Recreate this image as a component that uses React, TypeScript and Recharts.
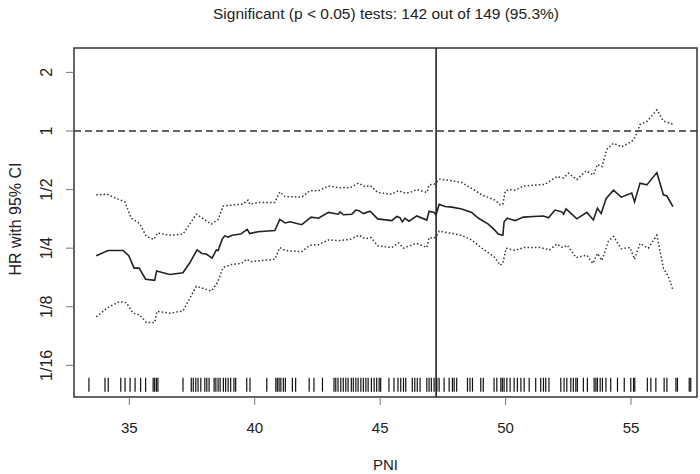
import React from 'react';
import {
  ComposedChart,
  Line,
  Scatter,
  XAxis,
  YAxis,
  ReferenceLine,
  ReferenceArea,
} from 'recharts';

// ---------- data (PNI, log2 HR) ----------
const ESTIMATE: [number, number][] = [
  [33.68, -2.13], [34.15, -2.04], [34.75, -2.04], [34.98, -2.13], [35.19, -2.34],
  [35.39, -2.34], [35.65, -2.53], [36.01, -2.55], [36.09, -2.39], [36.61, -2.45],
  [37.14, -2.42], [37.41, -2.25], [37.7, -2.03], [37.9, -2.09], [38.07, -2.1],
  [38.3, -2.17], [38.47, -2.03], [38.54, -2.04], [38.7, -1.85], [38.8, -1.79],
  [38.94, -1.81], [39.1, -1.78], [39.44, -1.76], [39.7, -1.68], [39.8, -1.75],
  [40.13, -1.72], [40.8, -1.7], [41.0, -1.51], [41.21, -1.57], [41.41, -1.55],
  [41.87, -1.6], [42.25, -1.47], [42.54, -1.49], [42.94, -1.39], [43.33, -1.42],
  [43.4, -1.38], [43.53, -1.43], [43.87, -1.42], [44.03, -1.35], [44.16, -1.36],
  [44.33, -1.41], [44.6, -1.37], [44.9, -1.5], [45.46, -1.53], [45.66, -1.46],
  [45.79, -1.48], [45.88, -1.55], [45.99, -1.49], [46.15, -1.54], [46.46, -1.45],
  [46.86, -1.52], [46.95, -1.37], [47.15, -1.39], [47.23, -1.43], [47.35, -1.25],
  [47.59, -1.29], [47.86, -1.3], [48.25, -1.33], [48.65, -1.39], [48.92, -1.49],
  [49.31, -1.59], [49.54, -1.68], [49.71, -1.76], [49.89, -1.78], [49.94, -1.55],
  [50.07, -1.49], [50.38, -1.53], [50.71, -1.47], [51.11, -1.46], [51.51, -1.45],
  [51.71, -1.48], [51.97, -1.35], [52.24, -1.38], [52.31, -1.42], [52.41, -1.33],
  [52.84, -1.5], [53.24, -1.39], [53.5, -1.52], [53.66, -1.32], [53.81, -1.41],
  [54.01, -1.15], [54.3, -1.01], [54.61, -1.13], [55.03, -1.06], [55.14, -1.21],
  [55.36, -0.89], [55.63, -0.92], [56.03, -0.71], [56.29, -1.09], [56.43, -1.11],
  [56.67, -1.29],
];

const UPPER: [number, number][] = [
  [33.68, -1.09], [34.12, -1.08], [34.42, -1.14], [34.82, -1.21], [35.08, -1.49],
  [35.41, -1.58], [35.68, -1.8], [35.98, -1.85], [36.12, -1.74], [36.61, -1.78],
  [37.14, -1.76], [37.67, -1.42], [38.27, -1.59], [38.54, -1.51], [38.74, -1.28],
  [39.2, -1.26], [39.53, -1.25], [39.73, -1.18], [39.8, -1.25], [40.2, -1.22],
  [40.8, -1.22], [41.0, -1.04], [41.21, -1.12], [41.87, -1.13], [42.2, -1.02],
  [42.54, -1.02], [42.94, -0.94], [43.4, -0.97], [43.8, -0.97], [44.13, -0.89],
  [44.4, -0.95], [44.6, -0.93], [44.9, -1.05], [45.46, -1.08], [45.73, -1.02],
  [45.99, -1.06], [46.19, -1.05], [46.46, -1.0], [46.86, -1.05], [46.95, -0.92],
  [47.15, -0.91], [47.26, -0.87], [47.39, -0.82], [47.86, -0.85], [48.25, -0.88],
  [48.65, -0.98], [49.05, -1.09], [49.58, -1.18], [49.78, -1.26], [49.89, -1.25],
  [49.98, -1.04], [50.11, -1.0], [50.38, -1.01], [50.71, -0.94], [51.24, -0.92],
  [51.58, -0.91], [51.78, -0.85], [52.04, -0.78], [52.31, -0.8], [52.51, -0.72],
  [52.84, -0.83], [53.21, -0.68], [53.5, -0.75], [53.66, -0.57], [53.84, -0.61],
  [54.04, -0.31], [54.3, -0.21], [54.63, -0.27], [55.03, -0.18], [55.16, -0.11],
  [55.36, 0.11], [55.63, 0.16], [56.03, 0.36], [56.29, 0.17], [56.43, 0.15],
  [56.67, 0.11],
];

const LOWER: [number, number][] = [
  [33.68, -3.17], [34.15, -3.01], [34.62, -2.91], [34.88, -2.93], [35.15, -3.11],
  [35.41, -3.14], [35.68, -3.27], [36.01, -3.27], [36.1, -3.08], [36.61, -3.11],
  [37.14, -3.07], [37.67, -2.65], [38.27, -2.73], [38.51, -2.59], [38.74, -2.33],
  [39.07, -2.28], [39.47, -2.26], [39.67, -2.19], [39.87, -2.23], [40.26, -2.21],
  [40.8, -2.19], [41.0, -1.99], [41.21, -2.04], [41.87, -2.06], [42.2, -1.95],
  [42.54, -1.94], [42.94, -1.86], [43.4, -1.87], [43.8, -1.85], [44.16, -1.78],
  [44.4, -1.84], [44.64, -1.82], [44.9, -1.96], [45.46, -1.99], [45.73, -1.91],
  [45.93, -2.0], [46.1, -1.97], [46.46, -1.92], [46.86, -1.99], [46.95, -1.82],
  [47.15, -1.83], [47.26, -1.78], [47.35, -1.71], [47.86, -1.75], [48.25, -1.78],
  [48.65, -1.86], [49.05, -2.0], [49.55, -2.15], [49.78, -2.29], [49.89, -2.26],
  [50.02, -2.0], [50.38, -2.04], [50.71, -1.99], [51.38, -1.99], [51.75, -2.03],
  [52.04, -1.93], [52.28, -1.99], [52.46, -1.95], [52.81, -2.16], [53.24, -2.12],
  [53.48, -2.26], [53.66, -2.09], [53.84, -2.21], [54.1, -1.88], [54.3, -1.8],
  [54.61, -2.01], [54.96, -1.99], [55.14, -2.19], [55.36, -1.92], [55.69, -2.0],
  [56.03, -1.78], [56.29, -2.34], [56.49, -2.49], [56.67, -2.71],
];

const RUG_PNI: number[] = [
  33.39, 34.03, 34.16, 34.66, 34.83, 35.03, 35.23, 35.45, 35.65, 35.95, 36.01, 36.08, 36.14,
  37.14, 37.47, 37.55, 37.65, 37.74, 37.85, 38.01, 38.09, 38.18, 38.38, 38.45, 38.54, 38.62,
  38.75, 38.84, 38.94, 39.04, 39.17, 39.24, 39.68, 39.81, 40.48, 40.84, 40.9, 40.97, 41.04,
  41.14, 41.22, 41.5, 41.63, 42.17, 42.36, 42.7, 43.16, 43.23, 43.32, 43.43, 43.53, 43.63,
  43.72, 43.85, 43.93, 44.03, 44.12, 44.23, 44.33, 44.43, 44.52, 44.65, 44.76, 44.86, 44.96,
  45.02, 45.35, 45.55, 45.71, 45.82, 45.93, 46.02, 46.28, 46.38, 46.48, 46.59, 46.86, 46.95,
  47.04, 47.15, 47.26, 47.35, 47.55, 47.75, 47.88, 47.95, 48.05, 48.48, 48.58, 48.68, 49.01,
  49.11, 49.54, 49.65, 49.81, 49.87, 49.94, 50.05, 50.18, 50.34, 50.47, 50.61, 50.74, 50.94,
  51.2, 51.4, 51.51, 51.6, 51.73, 52.2, 52.33, 52.44, 52.6, 52.7, 52.8, 52.86, 53.1, 53.26,
  53.53, 53.6, 53.66, 53.77, 53.86, 54.0, 54.19, 54.46, 54.73, 54.99, 55.1, 55.15, 55.65,
  55.79, 55.99, 56.32, 56.43, 56.79, 56.85, 57.32, 57.38,
];

const CUTPOINT_PNI = 47.23;
const REFERENCE_HR_LOG2 = 0;
const PNI_TICKS = [35, 40, 45, 50, 55];
const HR_TICKS = [-4, -3, -2, -1, 0, 1];
const HR_TICK_LABELS = ['1/16', '1/8', '1/4', '1/2', '1', '2'];
const TITLE = 'Significant (p < 0.05) tests: 142 out of 149 (95.3%)';
const X_LABEL = 'PNI';
const Y_LABEL = 'HR with 95% CI';

// ---------- layout / style ----------
const X_DOMAIN: [number, number] = [32.795, 57.63];
const Y_DOMAIN: [number, number] = [-4.54, 1.416];
const RUG_LEVEL = -4.33;
const FONT = '"Liberation Sans", Arial, Helvetica, sans-serif';
const TEXT = '#222';

const toPts = (arr: [number, number][]) => arr.map(([x, y]) => ({ x, y }));

const YTick = (props: any) => {
  const { x, y, payload } = props;
  const i = HR_TICKS.indexOf(payload.value);
  const tx = x - 11.5;
  return (
    <text
      x={tx}
      y={y}
      transform={`rotate(-90, ${tx}, ${y})`}
      textAnchor="middle"
      fontSize={16}
      fontFamily={FONT}
      fill={TEXT}
    >
      {i >= 0 ? HR_TICK_LABELS[i] : payload.value}
    </text>
  );
};

const RugMark = (props: any) => {
  const { cx, cy } = props;
  if (cx == null || cy == null) return null;
  return <line x1={cx} x2={cx} y1={cy - 7} y2={cy + 7} stroke="#111" strokeWidth={1.2} />;
};

export default function App() {
  const rugData = RUG_PNI.map((x) => ({ x, y: RUG_LEVEL }));
  return (
    <div style={{ position: 'absolute', left: 0, top: 0, width: 700, height: 474, background: '#fff' }}>
      <ComposedChart width={700} height={474} margin={{ top: 48, right: 3, bottom: 47, left: 0 }}>
        <XAxis
          type="number"
          dataKey="x"
          domain={X_DOMAIN}
          ticks={PNI_TICKS}
          allowDataOverflow
          height={30}
          tickSize={8}
          tickMargin={17}
          axisLine={false}
          tickLine={{ stroke: '#777' }}
          tick={{ fontSize: 15, fill: TEXT, fontFamily: FONT }}
        />
        <YAxis
          type="number"
          dataKey="y"
          domain={Y_DOMAIN}
          ticks={HR_TICKS}
          allowDataOverflow
          width={74}
          tickSize={8}
          axisLine={false}
          tickLine={{ stroke: '#777' }}
          tick={<YTick />}
        />
        <ReferenceArea
          x1={X_DOMAIN[0]}
          x2={X_DOMAIN[1]}
          y1={Y_DOMAIN[0]}
          y2={Y_DOMAIN[1]}
          fill="none"
          fillOpacity={0}
          stroke="#333"
          strokeWidth={1.5}
          ifOverflow="visible"
        />
        <ReferenceLine y={REFERENCE_HR_LOG2} stroke="#333" strokeWidth={1.5} strokeDasharray="7 4" />
        <ReferenceLine x={CUTPOINT_PNI} stroke="#222" strokeWidth={1.6} />
        <Line
          data={toPts(UPPER)}
          dataKey="y"
          type="linear"
          stroke="#333"
          strokeWidth={1.5}
          strokeDasharray="1.5 2.2"
          dot={false}
          activeDot={false}
          isAnimationActive={false}
        />
        <Line
          data={toPts(LOWER)}
          dataKey="y"
          type="linear"
          stroke="#333"
          strokeWidth={1.5}
          strokeDasharray="1.5 2.2"
          dot={false}
          activeDot={false}
          isAnimationActive={false}
        />
        <Line
          data={toPts(ESTIMATE)}
          dataKey="y"
          type="linear"
          stroke="#222"
          strokeWidth={1.6}
          dot={false}
          activeDot={false}
          isAnimationActive={false}
        />
        <Scatter data={rugData} dataKey="y" shape={<RugMark />} isAnimationActive={false} />
      </ComposedChart>
      <svg
        width={700}
        height={474}
        style={{ position: 'absolute', left: 0, top: 0, pointerEvents: 'none' }}
      >
        <text x={386} y={19} textAnchor="middle" fontSize={15.5} fontFamily={FONT} fill={TEXT}>
          {TITLE}
        </text>
        <text x={385.5} y={470} textAnchor="middle" fontSize={15} fontFamily={FONT} fill={TEXT}>
          {X_LABEL}
        </text>
        <text
          x={21}
          y={219}
          transform="rotate(-90, 21, 219)"
          textAnchor="middle"
          fontSize={16}
          fontFamily={FONT}
          fill={TEXT}
        >
          {Y_LABEL}
        </text>
      </svg>
    </div>
  );
}
